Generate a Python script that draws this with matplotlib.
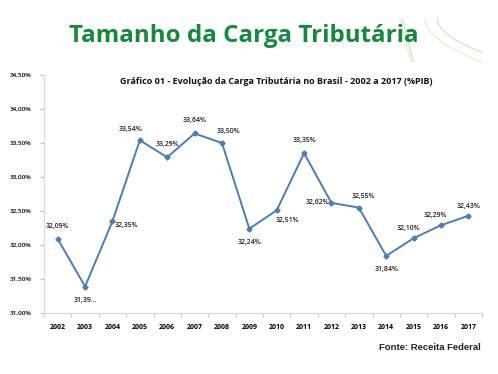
import matplotlib.pyplot as plt
import numpy as np
from matplotlib.lines import Line2D

anos = ['2002', '2003', '2004', '2005', '2006', '2007', '2008', '2009',
        '2010', '2011', '2012', '2013', '2014', '2015', '2016', '2017']
carga = [32.09, 31.39, 32.35, 33.54, 33.29, 33.64, 33.50, 32.24,
         32.51, 33.35, 32.62, 32.55, 31.84, 32.10, 32.29, 32.43]
rotulos = ['32,09%', '31,39...', '32,35%', '33,54%', '33,29%', '33,64%', '33,50%', '32,24%',
           '32,51%', '33,35%', '32,62%', '32,55%', '31,84%', '32,10%', '32,29%', '32,43%']
y_ticks = [31.0, 31.5, 32.0, 32.5, 33.0, 33.5, 34.0, 34.5]

# label offsets (points) per point, picked by eye
offsets = [(0, 9), (0, -10), (10, -3), (-7, 8), (0, 9), (0, 9), (5, 8), (0, -10),
           (8, -7), (0, 9), (-10, 0), (3, 8), (0, -10), (-4, 7), (-4, 7), (0, 7)]

plt.rcParams['font.family'] = ['Open Sans', 'DejaVu Sans']

fig = plt.figure(figsize=(4.98, 3.74), dpi=100)
fig.patch.set_facecolor('white')
ax = fig.add_axes([0.0884, 0.163, 0.8795, 0.6365])

x = np.arange(len(anos))
ax.plot(x, carga, color='#4a7ebb', lw=1.4, marker='D', ms=2.6)

for xi, yi, lab, off in zip(x, carga, rotulos, offsets):
    ax.annotate(lab, (xi, yi), textcoords='offset points', xytext=off,
                ha='center', va='center', fontsize=5, fontweight='semibold', color='#222222')

ax.set_xlim(-0.5, len(anos) - 0.5)
ax.set_ylim(31.0, 34.5)
ax.set_yticks(y_ticks)
ax.set_yticklabels([f'{v:.2f}%'.replace('.', ',') for v in y_ticks], fontsize=4.6,
                   fontweight='semibold')
ax.set_xticks(x)
ax.set_xticklabels(anos, fontsize=5, fontweight='bold')
ax.set_xticks(np.arange(-0.5, len(anos), 1), minor=True)
ax.tick_params(axis='x', which='major', length=0, pad=8)
ax.tick_params(axis='x', which='minor', length=3, color='#bfbfbf')
ax.tick_params(axis='y', length=3, color='#bfbfbf', pad=6)

for s in ['top', 'right']:
    ax.spines[s].set_visible(False)
ax.spines['left'].set_color('#d9d9d9')
ax.spines['bottom'].set_color('#d9d9d9')

fig.text(0.49, 0.905, 'Tamanho da Carga Tributária', ha='center', va='center',
         fontsize=17.4, fontweight='bold', color='#138a3c')
fig.text(0.554, 0.783, 'Gráfico 01 - Evolução da Carga Tributária no Brasil - 2002 a 2017 (%PIB)',
         ha='center', va='center', fontsize=6.45, fontweight='bold', color='#111111')
fig.text(0.966, 0.07, 'Fonte: Receita Federal', ha='right', va='center',
         fontsize=6.8, fontweight='bold', family='Liberation Sans', color='#222222')

# faint decorative curves in the top right corner
t = np.linspace(0, 1, 50)
for (x0, y0, x1, y1, c) in [(0.853, 0.952, 0.968, 0.834, '#e6eec8'),
                            (0.878, 0.952, 0.968, 0.860, '#d8d8e0')]:
    xs = x0 + (x1 - x0) * t
    ys = y0 + (y1 - y0) * np.sqrt(t)
    fig.add_artist(Line2D(xs, ys, color=c, lw=0.8, transform=fig.transFigure))
for (x0, y0, x1, y1, c) in [(0.803, 0.95, 0.825, 0.835, '#e6eec8'),
                            (0.808, 0.95, 0.830, 0.835, '#d8d8e0')]:
    fig.add_artist(Line2D([x0, x1], [y0, y1], color=c, lw=0.8, transform=fig.transFigure))

fig.savefig('out.png', dpi=100, facecolor='white')
